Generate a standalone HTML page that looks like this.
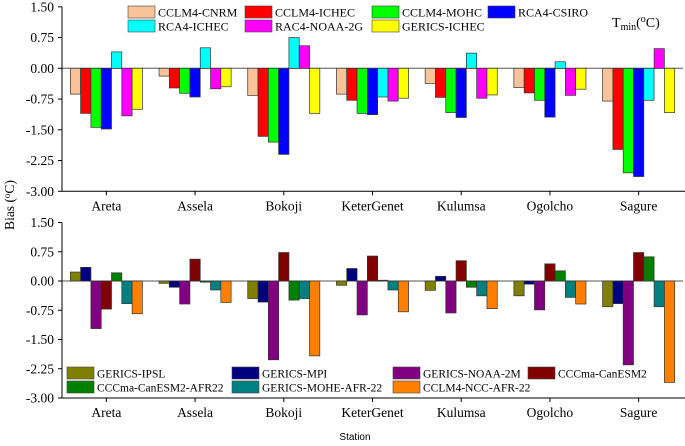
<!DOCTYPE html>
<html><head><meta charset="utf-8">
<style>
body{margin:0;background:#fff;}
svg{display:block;font-family:"Liberation Serif",serif;}
</style></head>
<body>
<svg id="chart" width="685" height="446" viewBox="0 0 685 446" xmlns="http://www.w3.org/2000/svg"></svg>
<script>
const stations = ["Areta","Assela","Bokoji","KeterGenet","Kulumsa","Ogolcho","Sagure"];
const yTicks = [1.5,0.75,0,-0.75,-1.5,-2.25,-3.0];
const yTickLabels = ["1.50","0.75","0.00","-0.75","-1.50","-2.25","-3.00"];

const topNames = ["CCLM4-CNRM","CCLM4-ICHEC","CCLM4-MOHC","RCA4-CSIRO","RCA4-ICHEC","RAC4-NOAA-2G","GERICS-ICHEC"];
const topColors = ["#f9c39a","#ff0000","#00ff00","#0000ff","#00ffff","#ff00ff","#ffff00"];
const cclm4Cnrm   = [-0.63,-0.19,-0.66,-0.63,-0.37,-0.47,-0.80];
const cclm4Ichec  = [-1.10,-0.48,-1.66,-0.78,-0.71,-0.60,-1.98];
const cclm4Mohc   = [-1.44,-0.61,-1.80,-1.10,-1.08,-0.78,-2.55];
const rca4Csiro   = [-1.48,-0.70,-2.10,-1.13,-1.20,-1.19,-2.64];
const rca4Ichec   = [0.40,0.50,0.75,-0.70,0.37,0.16,-0.78];
const rac4Noaa    = [-1.16,-0.50,0.55,-0.80,-0.73,-0.66,0.48];
const gericsIchec = [-1.00,-0.45,-1.10,-0.73,-0.65,-0.51,-1.08];
const topSeries = [cclm4Cnrm,cclm4Ichec,cclm4Mohc,rca4Csiro,rca4Ichec,rac4Noaa,gericsIchec];

const botNames = ["GERICS-IPSL","GERICS-MPI","GERICS-NOAA-2M","CCCma-CanESM2","CCCma-CanESM2-AFR22","GERICS-MOHE-AFR-22","CCLM4-NCC-AFR-22"];
const botColors = ["#808000","#000080","#800080","#800000","#008000","#008080","#ff8000"];
const gericsIpsl  = [0.23,-0.06,-0.45,-0.11,-0.24,-0.38,-0.66];
const gericsMpi   = [0.35,-0.16,-0.54,0.32,0.12,-0.08,-0.58];
const gericsNoaa  = [-1.22,-0.59,-2.02,-0.87,-0.82,-0.74,-2.15];
const canEsm2     = [-0.72,0.56,0.73,0.64,0.52,0.44,0.73];
const canEsm2Afr  = [0.21,-0.03,-0.49,0.02,-0.16,0.26,0.62];
const gericsMohe  = [-0.58,-0.23,-0.45,-0.23,-0.38,-0.42,-0.66];
const cclm4Ncc    = [-0.84,-0.55,-1.92,-0.79,-0.71,-0.59,-2.60];
const botSeries = [gericsIpsl,gericsMpi,gericsNoaa,canEsm2,canEsm2Afr,gericsMohe,cclm4Ncc];

const NS="http://www.w3.org/2000/svg";
const svg=document.getElementById('chart');
function mk(tag,attrs,parent){const e=document.createElementNS(NS,tag);for(const k in attrs)e.setAttribute(k,attrs[k]);(parent||svg).appendChild(e);return e;}

const xL=62,xR=683;
const groupW=(xR-xL)/stations.length;
const barW=10.3;
function xCenter(i){return xL+(i+0.5)*groupW;}

function panel(p){
  const g=mk('g',{});
  
  
  const y=v=>p.y0-v*p.k;
  const z=mk('line',{x1:xL,x2:xR,y1:y(0),y2:y(0),stroke:'#555','stroke-width':1},g);
  
  
  p.series.forEach((s,si)=>{
    s.forEach((v,i)=>{
      const x=xCenter(i)-3.5*barW+si*barW;
      const r=mk('rect',{x:x,y:Math.min(y(0),y(v)),width:barW,height:Math.abs(y(v)-y(0)),fill:p.colors[si],stroke:'#333','stroke-width':0.7},g);
      
      
    });
  });
  const ya=mk('line',{x1:xL,x2:xL,y1:y(1.5),y2:y(-3),stroke:'#000','stroke-width':1},g);
  
  
  yTicks.forEach((t,i)=>{
    mk('line',{x1:xL-4,x2:xL,y1:y(t),y2:y(t),stroke:'#000'},g);
    const tx=mk('text',{x:xL-8,y:y(t)+4.5,'text-anchor':'end','font-size':13.5},g);
    tx.textContent=yTickLabels[i];
    
    
  });
  const xa=mk('line',{x1:xL,x2:xR+2,y1:y(-3),y2:y(-3),stroke:'#000','stroke-width':1},g);
  
  
  stations.forEach((s,i)=>{
    mk('line',{x1:xCenter(i),x2:xCenter(i),y1:y(-3),y2:y(-3)+4,stroke:'#000'},g);
    const tx=mk('text',{x:xCenter(i),y:y(-3)+19,'text-anchor':'middle','font-size':13.5},g);
    tx.textContent=s;
    
    
  });
  p.names.forEach((n,i)=>{
    const lx=p.legX[i%4], ly=p.legY[Math.floor(i/4)];
    const r=mk('rect',{x:lx,y:ly,width:p.boxW,height:12,fill:p.colors[i],stroke:'#444','stroke-width':0.6},g);
    
    
    const t=mk('text',{x:lx+p.boxW+3,y:ly+10.5,'font-size':p.fs},g);
    t.textContent=n;
    
    
  });
}

panel({name:'tmin-panel-top',y0:68.3,k:41,series:topSeries,colors:topColors,names:topNames,
  legX:[128,245,372,488],legY:[6,20],boxW:27,fs:12});
panel({name:'tmin-panel-bottom',y0:281,k:39,series:botSeries,colors:botColors,names:botNames,
  legX:[67,232,393,528],legY:[367,381],boxW:27,fs:11.5});

const tl=mk('text',{x:612,y:27,'font-size':14});
tl.innerHTML='T<tspan font-size="10" dy="3">min</tspan><tspan dy="-3">(</tspan><tspan font-size="10" dy="-5">o</tspan><tspan dy="5">C)</tspan>';



const yl=mk('text',{x:0,y:0,'font-size':13.5,transform:'translate(14,205) rotate(-90)','text-anchor':'middle'});
yl.innerHTML='Bias (<tspan font-size="9" dy="-4">o</tspan><tspan dy="4">C)</tspan>';



const xl=mk('text',{x:355,y:440,'font-size':10,'text-anchor':'middle','font-family':'Liberation Sans, sans-serif'});
xl.textContent='Station';


</script>
</body></html>
